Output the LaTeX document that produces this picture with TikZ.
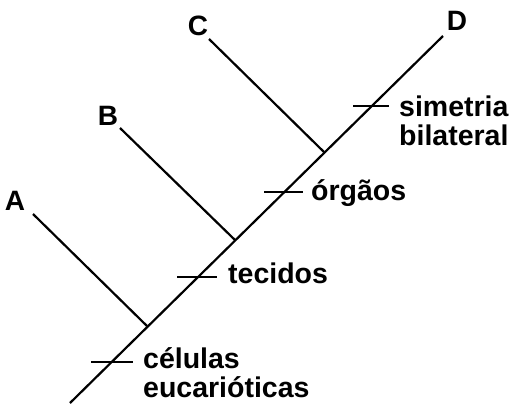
\documentclass[tikz,border=0pt]{standalone}
\usepackage{fontspec}
\setmainfont{Liberation Sans}
\begin{document}
\begin{tikzpicture}[x=1pt,y=-1pt,
  branch/.style={line width=2.2pt},
  tickbar/.style={line width=2.8pt},
  taxon/.style={font=\fontsize{28}{29}\selectfont\bfseries, inner sep=0pt},
  trait/.style={font=\fontsize{28.5}{29}\selectfont\bfseries, inner sep=0pt, anchor=base west}]
  \useasboundingbox (0,0) rectangle (511,405);

  % main stem and the three side branches
  \coordinate (root) at (70,403);
  \coordinate (nA) at (147,326);
  \coordinate (nB) at (235,240);
  \coordinate (nC) at (324,152);
  \coordinate (tD) at (443,36);
  \coordinate (tA) at (33,214);
  \coordinate (tB) at (120,128);
  \coordinate (tC) at (209,39);
  \draw[branch] (root) -- (tD);
  \draw[branch] (tA) -- (nA);
  \draw[branch] (tB) -- (nB);
  \draw[branch] (tC) -- (nC);

  % taxa
  \node[taxon] (lA) at (15,201) {A};
  \node[taxon] (lB) at (108,116) {B};
  \node[taxon] (lC) at (198,26) {C};
  \node[taxon] (lD) at (457,21) {D};

  % character marks on the stem
  \coordinate (k1a) at (91,362);  \coordinate (k1b) at (133,362);
  \coordinate (k2a) at (177,277); \coordinate (k2b) at (217,277);
  \coordinate (k3a) at (264,192); \coordinate (k3b) at (303,192);
  \coordinate (k4a) at (353,106); \coordinate (k4b) at (389,106);
  \draw[tickbar] (k1a) -- (k1b);
  \draw[tickbar] (k2a) -- (k2b);
  \draw[tickbar] (k3a) -- (k3b);
  \draw[tickbar] (k4a) -- (k4b);

  % character labels
  \node[trait] (t1) at (143,368) {células};
  \node[trait] (t1b) at (143,397) {eucarióticas};
  \node[trait] (t2) at (228,283) {tecidos};
  \node[trait] (t3) at (311,200) {órgãos};
  \node[trait] (t4) at (399,116) {simetria};
  \node[trait] (t4b) at (399,145) {bilateral};
\end{tikzpicture}
\end{document}
